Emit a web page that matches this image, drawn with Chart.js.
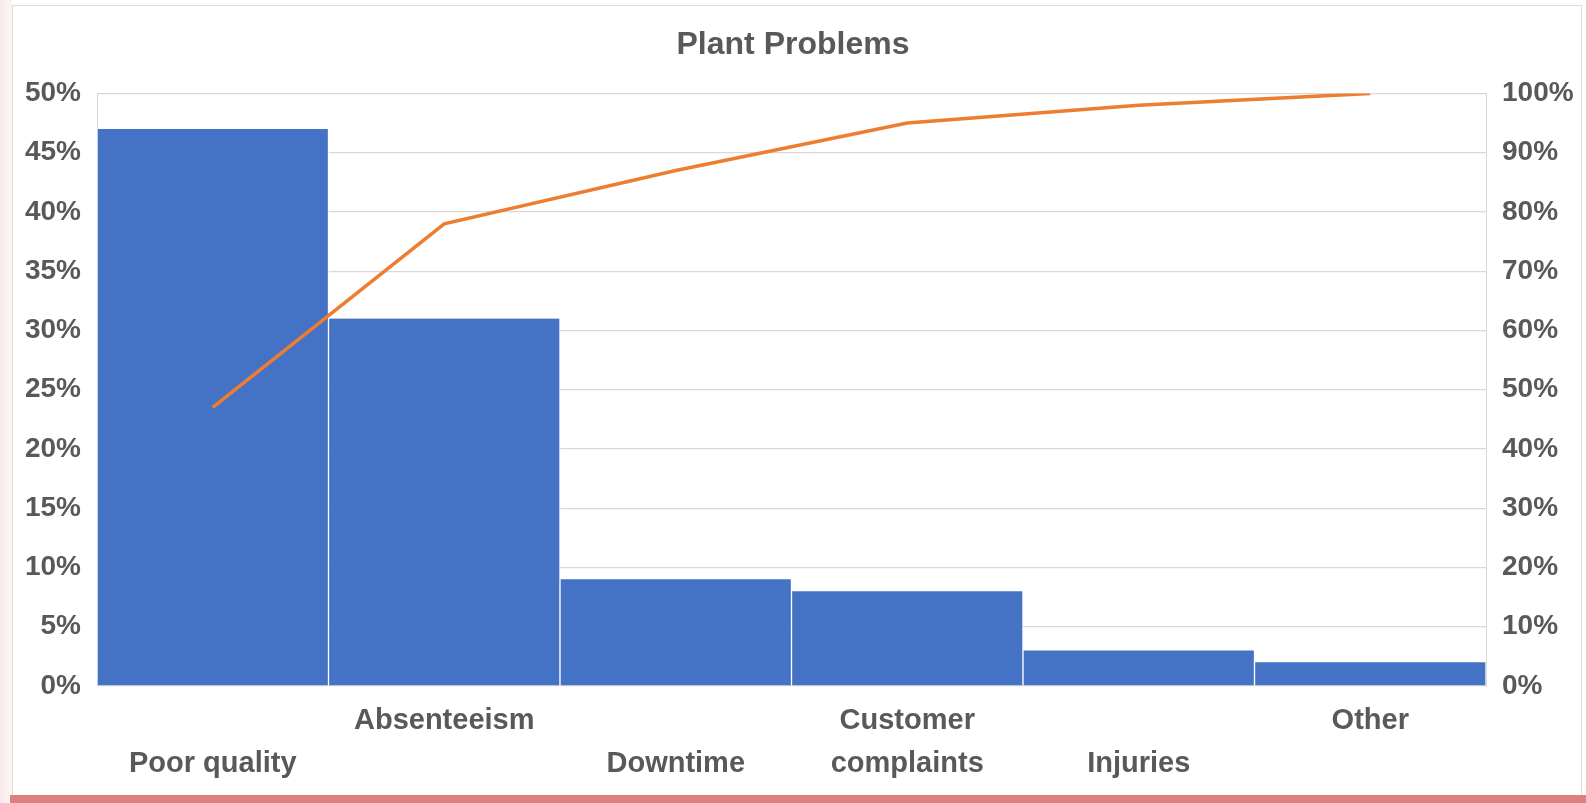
<!DOCTYPE html>
<html>
<head>
<meta charset="utf-8">
<script src="https://cdn.jsdelivr.net/npm/chart.js@4.4.1/dist/chart.umd.min.js"></script>
<style>
  html, body { margin: 0; padding: 0; background: #fff; }
  #wrap { position: relative; width: 1586px; height: 803px; overflow: hidden; }
  #edge { position: absolute; left: 0; top: 0; width: 12px; height: 803px;
          background: linear-gradient(to right, #f8eaea, #fcf6f6); }
  #card { position: absolute; left: 12px; top: 5px; width: 1568px; height: 789px;
          border: 1px solid #dcdcdc; background: #fff; }
  #band { position: absolute; left: 10px; top: 795px; width: 1576px; height: 8px; background: #e07f7f; }
  #c { position: absolute; left: 0; top: 0; }
</style>
</head>
<body>
<div id="wrap">
  <div id="edge"></div>
  <div id="card"></div>
  <div id="band"></div>
  <canvas id="c" width="1586" height="803"></canvas>
</div>
<script>
const categories = ["Poor quality", "Absenteeism", "Downtime", "Customer complaints", "Injuries", "Other"];
const shares = [47, 31, 9, 8, 3, 2];
const cumulative = [47, 78, 87, 95, 98, 100];
const leftTicks = [0, 5, 10, 15, 20, 25, 30, 35, 40, 45, 50];
const rightTicks = [0, 10, 20, 30, 40, 50, 60, 70, 80, 90, 100];

const textColor = "#595959";
const fontFamily = "'Liberation Sans', Arial, sans-serif";

// Excel staggers the labels: odd ones on the upper row, long ones wrap
function tickLines(i) {
  const label = categories[i];
  if (i % 2 === 0) return ["", label];
  const words = label.split(" ");
  return words.length > 1 ? words : [label, ""];
}

const ctx = document.getElementById("c").getContext("2d");
new Chart(ctx, {
  data: {
    labels: categories,
    datasets: [
      {
        type: "line",
        label: "Cumulative",
        data: cumulative,
        yAxisID: "y1",
        borderColor: "#ED7D31",
        borderWidth: 3.5,
        pointRadius: 0,
        tension: 0,
        order: 0,
      },
      {
        type: "bar",
        label: "Share",
        data: shares,
        yAxisID: "y",
        backgroundColor: "#4472C4",
        borderColor: "#ffffff",
        borderWidth: { left: 1, right: 1, top: 0, bottom: 0 },
        borderSkipped: false,
        barPercentage: 1,
        categoryPercentage: 1,
        order: 1,
      },
    ],
  },
  options: {
    responsive: false,
    animation: false,
    layout: { padding: { left: 0, right: 0, top: 0, bottom: 0 } },
    plugins: {
      legend: { display: false },
      tooltip: { enabled: false },
      title: {
        display: true,
        text: "Plant Problems",
        color: textColor,
        font: { family: fontFamily, size: 32, weight: "bold" },
        padding: { top: 26, bottom: 29 },
      },
    },
    scales: {
      x: {
        grid: { display: false, drawTicks: false },
        border: { display: false },
        afterFit: (scale) => { scale.height = 117; },
        ticks: {
          autoSkip: false,
          maxRotation: 0,
          padding: 13,
          color: textColor,
          font: { family: fontFamily, size: 29, weight: "bold", lineHeight: 1.5 },
          callback: (v, i) => tickLines(i),
        },
      },
      y: {
        position: "left",
        min: 0,
        max: 50,
        afterBuildTicks: (scale) => { scale.ticks = leftTicks.map((v) => ({ value: v })); },
        afterFit: (scale) => { scale.width = 97; },
        grid: { color: "#d9d9d9", lineWidth: 1.3, drawTicks: false },
        border: { display: true, color: "#d9d9d9" },
        ticks: {
          padding: 16,
          color: textColor,
          font: { family: fontFamily, size: 28, weight: "bold" },
          callback: (v) => v + "%",
        },
      },
      y1: {
        position: "right",
        min: 0,
        max: 100,
        afterBuildTicks: (scale) => { scale.ticks = rightTicks.map((v) => ({ value: v })); },
        afterFit: (scale) => { scale.width = 100; },
        grid: { display: false, drawTicks: false },
        border: { display: true, color: "#d9d9d9" },
        ticks: {
          padding: 16,
          color: textColor,
          font: { family: fontFamily, size: 28, weight: "bold" },
          callback: (v) => v + "%",
        },
      },
    },
  },
});
</script>
</body>
</html>
